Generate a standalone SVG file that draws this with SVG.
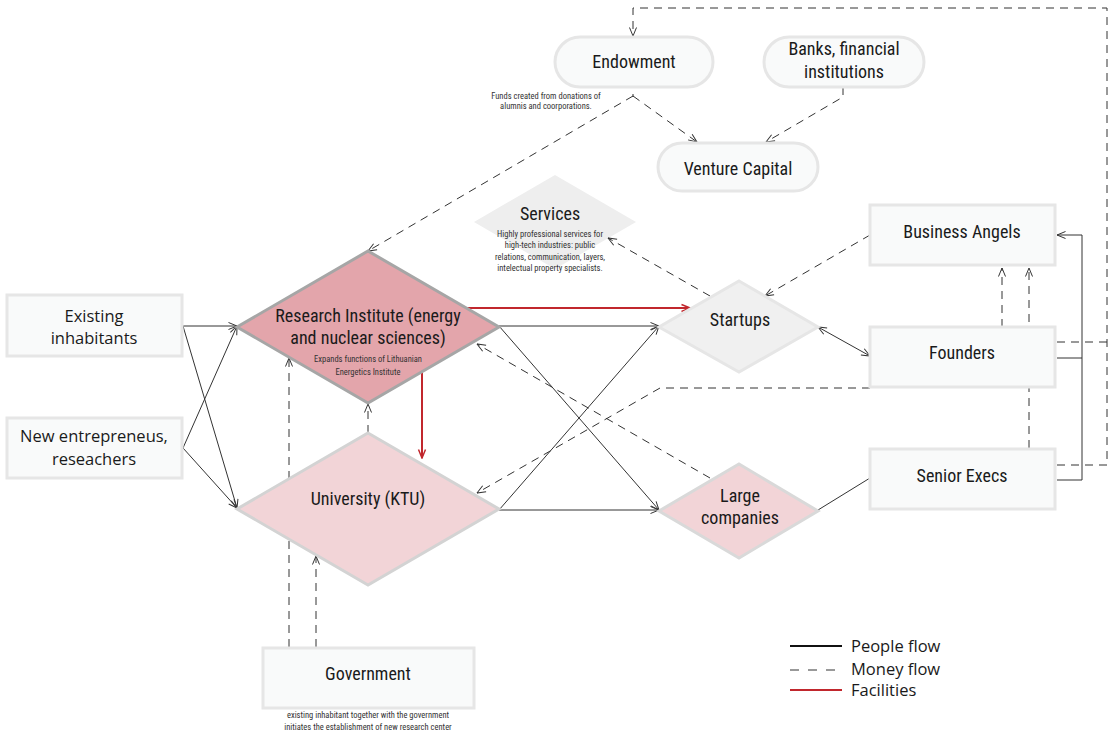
<svg xmlns="http://www.w3.org/2000/svg" width="1116" height="734" viewBox="0 0 1116 734">
<defs>
<style>
.box{fill:#f9fafa;stroke:#e6e6e6;stroke-width:3}
.t{font-family:"Liberation Sans Narrow","Roboto Condensed","DejaVu Sans Condensed","Liberation Sans",sans-serif;font-size:18px;fill:#1a1a1a;text-anchor:middle}
.s{font-family:"Liberation Sans Narrow","Roboto Condensed","DejaVu Sans Condensed","Liberation Sans",sans-serif;font-size:8.5px;fill:#333;text-anchor:middle}
.m{font-family:"Open Sans","Noto Sans",sans-serif;font-size:16.5px;fill:#1a1a1a;text-anchor:middle}
.lg{font-family:"Open Sans","Noto Sans",sans-serif;font-size:16.5px;fill:#1a1a1a}
.p{fill:none;stroke:#333;stroke-width:1}
.d{fill:none;stroke:#333;stroke-width:1;stroke-dasharray:8 6}
.r{fill:none;stroke:#c1272d;stroke-width:2}
</style>
<marker id="a" viewBox="0 0 10 10" refX="9.5" refY="5" markerWidth="10" markerHeight="10" markerUnits="userSpaceOnUse" orient="auto-start-reverse"><path d="M1,1.5 L9.5,5 L1,8.5" fill="none" stroke="#333" stroke-width="1"/></marker>
<marker id="ar" viewBox="0 0 10 10" refX="9.5" refY="5" markerWidth="10" markerHeight="10" markerUnits="userSpaceOnUse" orient="auto"><path d="M1,1.5 L9.5,5 L1,8.5" fill="none" stroke="#c1272d" stroke-width="1.5"/></marker>
</defs>
<rect width="1116" height="734" fill="#ffffff"/>

<g id="services">
<polygon points="555,175 636,222 555,269 474,222" fill="#eeeeee"/>
<text class="t" x="550" y="220">Services</text>
<text class="s" x="550" y="237">Highly professional services for</text>
<text class="s" x="550" y="248">high-tech industries: public</text>
<text class="s" x="550" y="260">relations, communication, layers,</text>
<text class="s" x="550" y="271">intelectual property specialists.</text>
</g>

<g id="connectors">
<path class="p" d="M183,326 L237,326" marker-end="url(#a)"/>
<path class="p" d="M183,326 L237,508" marker-end="url(#a)"/>
<path class="p" d="M183,448 L237,326" marker-end="url(#a)"/>
<path class="p" d="M183,448 L237,508" marker-end="url(#a)"/>
<path class="p" d="M499,326 L659,326" marker-end="url(#a)"/>
<path class="p" d="M499,326 L659,510" marker-end="url(#a)"/>
<path class="p" d="M499,510 L659,510" marker-end="url(#a)"/>
<path class="p" d="M499,510 L659,326" marker-end="url(#a)"/>
<path class="p" d="M818,327 L870,356" marker-start="url(#a)" marker-end="url(#a)"/>
<path class="p" d="M818,510 L870,478"/>
<path class="p" d="M1057,358 L1082,358"/>
<path class="p" d="M1057,480 L1082,480 L1082,235 L1057,235" marker-end="url(#a)"/>
<path class="r" d="M467,308 L690,308" marker-end="url(#ar)"/>
<path class="r" d="M422,372 L422,458" marker-end="url(#ar)"/>
<path class="d" d="M1057,342 L1107,342"/>
<path class="d" d="M1057,465 L1107,465 L1107,8 L633,8 L633,36" marker-end="url(#a)"/>
<path class="d" d="M633,96 L697,142" marker-end="url(#a)"/>
<path class="d" d="M633,96 L368,251" marker-end="url(#a)"/>
<path class="p" d="M633,94 L633,97"/>
<path class="d" d="M843,87 L843,97 L766,142" marker-end="url(#a)"/>
<path class="d" d="M870,235 L765,296" marker-end="url(#a)"/>
<path class="d" d="M710,296 L608,238" marker-end="url(#a)"/>
<path class="d" d="M1002,327 L1002,268" marker-end="url(#a)"/>
<path class="d" d="M1029,448 L1029,268" marker-end="url(#a)"/>
<path class="d" d="M710,478 L477,344" marker-end="url(#a)"/>
<path class="d" d="M870,388 L660,388 L477,493" marker-end="url(#a)"/>
<path class="d" d="M368,433 L368,404" marker-end="url(#a)" stroke="#666"/>
<path class="d" d="M289,647 L289,358" marker-end="url(#a)" stroke="#777"/>
<path class="d" d="M316,647 L316,556" marker-end="url(#a)" stroke="#222" stroke-width="1.5"/>
</g>

<g id="endowment">
<rect class="box" x="555" y="37" width="158" height="50" rx="25"/>
<text class="t" x="634" y="68">Endowment</text>
<text class="s" x="546" y="99">Funds created from donations of</text>
<text class="s" x="546" y="109">alumnis and coorporations.</text>
</g>
<g id="banks">
<rect class="box" x="764" y="37" width="160" height="50" rx="25"/>
<text class="t" x="844" y="55">Banks, financial</text>
<text class="t" x="844" y="78">institutions</text>
</g>
<g id="venture-capital">
<rect class="box" x="658" y="143" width="160" height="48" rx="24"/>
<text class="t" x="738" y="175">Venture Capital</text>
</g>
<g id="business-angels">
<rect class="box" x="870" y="205" width="185" height="60"/>
<text class="t" x="962" y="238">Business Angels</text>
</g>
<g id="founders">
<rect class="box" x="870" y="327" width="185" height="60"/>
<text class="t" x="962" y="359">Founders</text>
</g>
<g id="senior-execs">
<rect class="box" x="870" y="449" width="185" height="60"/>
<text class="t" x="962" y="482">Senior Execs</text>
</g>
<g id="startups">
<polygon points="739,281 818,327 739,372 659,327" fill="#f0f0f0" stroke="#e6e6e6" stroke-width="3"/>
<text class="t" x="740" y="326">Startups</text>
</g>
<g id="large-companies">
<polygon points="739,464 818,511 739,558 659,511" fill="#f2d4d7" stroke="#d9d9d9" stroke-width="3"/>
<text class="t" x="740" y="502">Large</text>
<text class="t" x="740" y="524">companies</text>
</g>
<g id="research-institute">
<polygon points="368,251 499,327 368,403 237,327" fill="#e3a5ab" stroke="#a6a6a6" stroke-width="3"/>
<text class="t" x="368" y="322">Research Institute (energy</text>
<text class="t" x="368" y="344">and nuclear sciences)</text>
<text class="s" x="368" y="362">Expands functions of Lithuanian</text>
<text class="s" x="368" y="375">Energetics Institute</text>
</g>
<g id="university">
<polygon points="368,433 499,509 368,585 237,509" fill="#f2d4d7" stroke="#d3d3d3" stroke-width="3"/>
<text class="t" x="368" y="505">University (KTU)</text>
</g>
<g id="existing-inhabitants">
<rect class="box" x="7" y="295" width="175" height="61"/>
<text class="m" x="94" y="322">Existing</text>
<text class="m" x="94" y="344">inhabitants</text>
</g>
<g id="new-entrepreneurs">
<rect class="box" x="7" y="418" width="175" height="60"/>
<text class="m" x="94" y="442">New entrepreneus,</text>
<text class="m" x="94" y="465">reseachers</text>
</g>
<g id="government">
<rect class="box" x="263" y="648" width="211" height="60"/>
<text class="t" x="368" y="680">Government</text>
<text class="s" x="368" y="718">existing inhabitant together with the government</text>
<text class="s" x="368" y="730">initiates the establishment of new research center</text>
</g>

<g id="legend">
<line x1="790" y1="646" x2="842" y2="646" stroke="#111" stroke-width="2"/>
<line x1="790" y1="670" x2="842" y2="670" stroke="#999" stroke-width="2" stroke-dasharray="9 9"/>
<line x1="790" y1="690" x2="842" y2="690" stroke="#c1272d" stroke-width="2"/>
<text class="lg" x="851" y="652">People flow</text>
<text class="lg" x="851" y="675">Money flow</text>
<text class="lg" x="851" y="696">Facilities</text>
</g>
</svg>
